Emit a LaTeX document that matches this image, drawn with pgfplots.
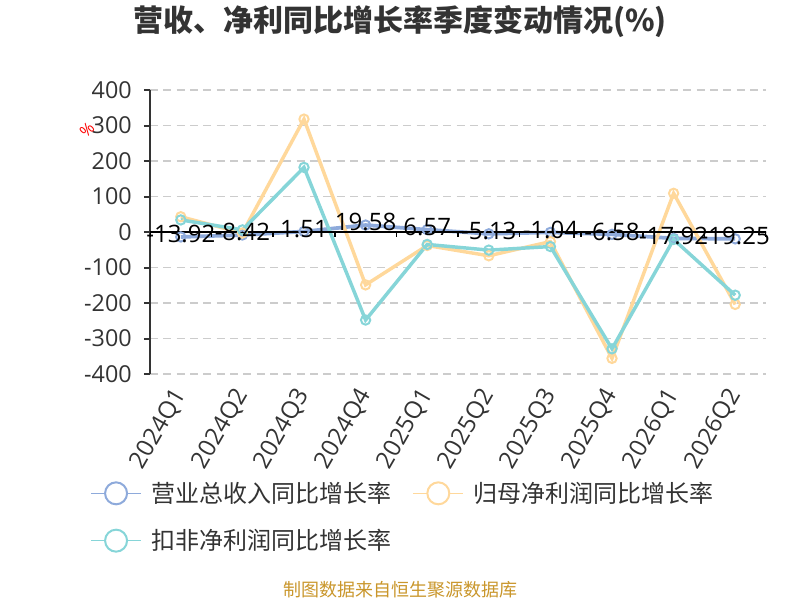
\documentclass[border=0pt]{standalone}
\usepackage{pgfplots}
\pgfplotsset{compat=1.18}
\usepackage{pgfplotstable}
\usepackage{fontspec}
\setmainfont{Open Sans}
\newfontfamily\cjk{Noto Sans CJK SC}
\definecolor{cBlue}{HTML}{8EAADB}
\definecolor{cOrange}{HTML}{FFD89B}
\definecolor{cTeal}{HTML}{86D5D8}
\definecolor{cText}{HTML}{333333}
\definecolor{cGrid}{HTML}{CCCCCC}
\definecolor{cSrc}{HTML}{C9962B}
\pgfplotstableread{
x rev np kf lab
0 -13.92 43 34 -13.92
1 -8.42 -3 6 -8.42
2 1.51 318 182 1.51
3 19.58 -149 -248 19.58
4 6.57 -38 -35 6.57
5 -5.13 -67 -51 -5.13
6 -1.04 -27 -41 -1.04
7 -6.58 -356 -329 -6.58
8 -17.92 109 -21 -17.92
9 -19.25 -204 -178 -19.25
}\data
\begin{document}
\begin{tikzpicture}[x=1pt,y=1pt]
\useasboundingbox (0,0) rectangle (600,450);
\begin{axis}[
  at={(112.5pt,169.5pt)}, anchor=south west,
  scale only axis, width=462pt, height=213pt,
  xmin=-0.5, xmax=9.5, ymin=-400, ymax=400,
  axis x line*=bottom, axis y line*=left,
  x axis line style={draw=none},
  y axis line style={cText, line width=1.5pt},
  xtick={0,...,9},
  xticklabels={2024Q1,2024Q2,2024Q3,2024Q4,2025Q1,2025Q2,2025Q3,2025Q4,2026Q1,2026Q2},
  xtick style={draw=none},
  ytick={-400,-300,...,400},
  ytick style={cText, line width=1.5pt},
  tick align=outside, major tick length=4.5pt,
  /pgf/number format/assume math mode=true,
  ymajorgrids, grid style={cGrid, line width=1.2pt, dash pattern=on 6pt off 4pt},
  yticklabel style={font=\fontsize{17.5}{18}\selectfont, text=cText, inner sep=0pt, xshift=-9pt},
  xticklabel style={font=\fontsize{18}{18}\selectfont, text=cText, inner sep=0pt, xshift=-7pt, yshift=-4pt, rotate=60, anchor=north east},
  legend columns=2,
  legend cell align=left,
  legend style={at={(axis description cs:-0.0974,-0.377)}, anchor=north west, draw=none, fill=none, inner sep=0pt,
    font=\cjk\fontsize{18}{18}\selectfont, text=cText, row sep=17.5pt,
    nodes={inner sep=0pt},
    /tikz/every odd column/.append style={column sep=7pt},
    /tikz/every even column/.append style={column sep=16pt}},
  legend image code/.code={
    \draw[#1, line width=1.2pt] (0pt,0pt) -- (37.5pt,0pt);
    \draw[#1, line width=1.5pt, fill=white] (18.75pt,0pt) circle (8.25pt);
  },
]
\addplot[cBlue, line width=2.8pt, mark=o, mark size=3.5pt, mark options={fill=white, line width=1.5pt}] table[x=x, y=rev] {\data};
\addlegendentry{营业总收入同比增长率}
\addplot[cOrange, line width=2.6pt, mark=o, mark size=3.5pt, mark options={fill=white, line width=1.5pt}] table[x=x, y=np] {\data};
\addlegendentry{归母净利润同比增长率}
\addplot[cTeal, line width=2.6pt, mark=o, mark size=3.5pt, mark options={fill=white, line width=1.5pt}] table[x=x, y=kf] {\data};
\addlegendentry{扣非净利润同比增长率}
\draw[black, line width=1.5pt] (axis cs:-0.55,0) -- (axis cs:9.55,0);
\pgfplotsinvokeforeach{0,...,10}{\draw[black, line width=1.2pt] (axis cs:#1-0.5,0) -- ++(0pt,-4pt);}
\addplot[draw=none, mark=none, forget plot, nodes near coords, point meta=explicit symbolic,
  nodes near coords style={anchor=center, font=\fontsize{18}{18}\selectfont, text=black, inner sep=0pt, yshift=2pt}]
  table[x=x, y=rev, meta=lab] {\data};
\end{axis}
\node[font=\cjk\bfseries\fontsize{22.5}{24}\selectfont, text=cText] at (300,433.5) {营收、净利同比增长率季度变动情况(\%)};
\node[font=\fontsize{12}{12}\selectfont, text=red, rotate=45] at (65.25,352.5) {\%};
\node[font=\cjk\fontsize{13.5}{14}\selectfont, text=cSrc] at (300,7.5) {制图数据来自恒生聚源数据库};
\end{tikzpicture}
\end{document}
